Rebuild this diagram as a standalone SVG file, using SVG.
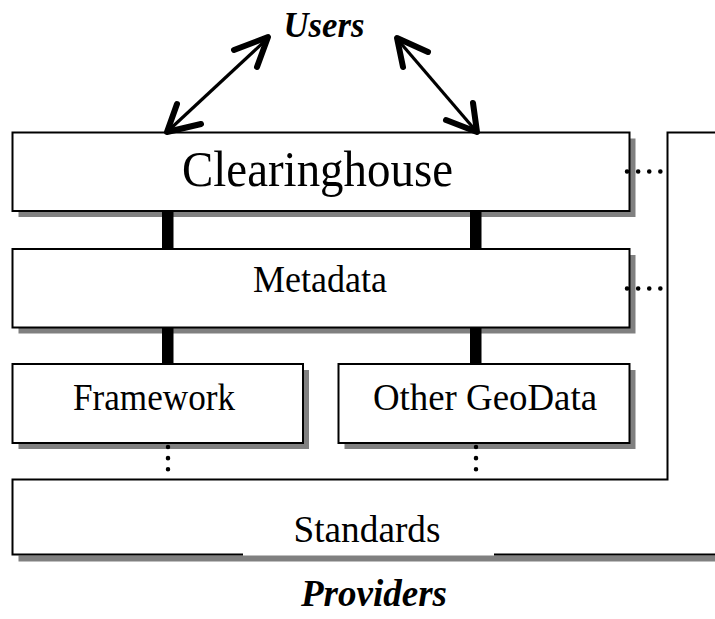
<svg xmlns="http://www.w3.org/2000/svg" width="715" height="619" viewBox="0 0 715 619">
<style>
.box{fill:#fff;stroke:#000;stroke-width:2}
.sh{fill:#808080}
.t{font-family:"Liberation Serif","Times New Roman",serif;fill:#000;text-anchor:middle}
.bi{font-weight:bold;font-style:italic}
.bar{fill:#000}
.dot{fill:none;stroke:#000;stroke-width:4.5;stroke-linecap:round;stroke-dasharray:0.1 11}
.shaft{fill:none;stroke:#000;stroke-width:3.2}
.head{fill:none;stroke:#000;stroke-width:6;stroke-linecap:round;stroke-linejoin:round}
</style>
<rect width="715" height="619" fill="#fff"/>
<text class="t bi" x="324" y="37" font-size="35" textLength="81" lengthAdjust="spacingAndGlyphs">Users</text>
<g id="standards">
<rect class="sh" x="18.5" y="555.5" width="700" height="6"/>
<path d="M12.5 479.5 H667.5 V132.5 H720 V554.5 H12.5 Z" fill="#fff"/>
<path d="M243 554.5 H12.5 V479.5 H667.5 V132.5 H720" fill="none" stroke="#000" stroke-width="2"/>
<path d="M494 554.5 H720" fill="none" stroke="#000" stroke-width="2"/>
<text class="t" x="367" y="542" font-size="37" textLength="147" lengthAdjust="spacingAndGlyphs">Standards</text>
</g>
<g id="clearinghouse">
<rect class="sh" x="18.5" y="138.5" width="617" height="78.5"/>
<rect class="box" x="12.5" y="132.5" width="617" height="78.5"/>
<text class="t" x="317.5" y="186" font-size="50" textLength="271" lengthAdjust="spacingAndGlyphs">Clearinghouse</text>
</g>
<g id="metadata">
<rect class="sh" x="18.5" y="255" width="617" height="78.5"/>
<rect class="box" x="12.5" y="249" width="617" height="78.5"/>
<text class="t" x="320" y="292" font-size="37" textLength="134" lengthAdjust="spacingAndGlyphs">Metadata</text>
</g>
<g id="framework">
<rect class="sh" x="18.5" y="370" width="290.5" height="79"/>
<rect class="box" x="12.5" y="364" width="290.5" height="79"/>
<text class="t" x="154" y="410" font-size="37" textLength="162" lengthAdjust="spacingAndGlyphs">Framework</text>
</g>
<g id="othergeodata">
<rect class="sh" x="344.5" y="370" width="291" height="79"/>
<rect class="box" x="338.5" y="364" width="291" height="79"/>
<text class="t" x="485" y="410" font-size="37" textLength="224" lengthAdjust="spacingAndGlyphs">Other GeoData</text>
</g>
<text class="t bi" x="374" y="606" font-size="38" textLength="146" lengthAdjust="spacingAndGlyphs">Providers</text>
<g id="connectors">
<rect class="bar" x="162" y="211" width="11.5" height="38"/>
<rect class="bar" x="470" y="211" width="11.5" height="38"/>
<rect class="bar" x="162" y="327.5" width="11.5" height="36.5"/>
<rect class="bar" x="470" y="327.5" width="11.5" height="36.5"/>
<path class="dot" d="M168 447 V480"/>
<path class="dot" d="M476 447 V480"/>
<path class="dot" d="M627 171.5 H665"/>
<path class="dot" d="M627 288.5 H665"/>
<path class="shaft" d="M168 131 L267 39"/>
<polyline class="head" points="234,50 268,37 257,67"/>
<polyline class="head" points="177,104 167,132 201,124"/>
<path class="shaft" d="M398 40 L476 131"/>
<polyline class="head" points="428,52 397,38 403,67"/>
<polyline class="head" points="473,103 477,132 446,120"/>
</g>
</svg>
